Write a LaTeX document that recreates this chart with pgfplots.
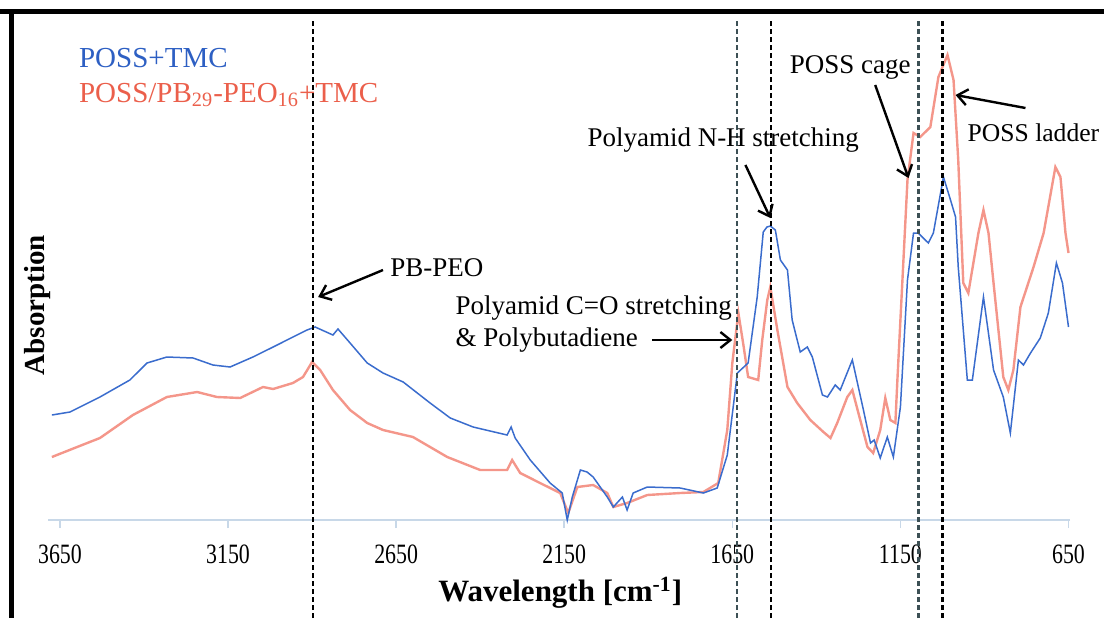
\documentclass[border=0pt]{standalone}
\usepackage{fontspec}
\setmainfont{Liberation Serif}
\usepackage{graphicx}
\usepackage{pgfplots}
\pgfplotsset{compat=1.18}
\usetikzlibrary{arrows.meta}

\definecolor{bluecurve}{RGB}{58,108,205}
\definecolor{redcurve}{RGB}{244,150,138}
\definecolor{bluetext}{RGB}{45,95,195}
\definecolor{redtext}{RGB}{235,95,75}
\definecolor{axisgray}{RGB}{200,216,232}
\definecolor{dashteal}{RGB}{60,80,85}

% POSS+TMC
\pgfplotstableread{
wn y
3674 105
3620 108
3531 123
3442 140
3391 157
3332 163
3254 162
3195 155
3144 153
3076 163
3004 175
2957 183
2915 190
2891 193
2838 185
2823 191
2787 177
2736 157
2689 147
2629 138
2549 117
2489 102
2421 93
2320 85
2308 93
2296 82
2251 60
2192 37
2156 27
2141 0
2126 23
2102 50
2082 48
2064 43
2022 23
2004 13
1977 23
1963 10
1945 27
1903 33
1805 32
1736 27
1695 32
1665 65
1635 147
1603 157
1576 223
1558 288
1547 293
1537 294
1522 290
1507 260
1486 250
1472 200
1448 168
1427 173
1412 163
1382 125
1367 123
1344 135
1329 130
1293 160
1260 110
1239 77
1228 80
1210 62
1189 83
1171 63
1150 113
1129 240
1111 287
1097 287
1067 277
1052 287
1022 343
1001 320
986 303
978 253
951 140
936 140
903 223
873 150
844 123
823 87
799 160
784 155
763 167
734 182
710 207
686 257
668 237
650 193
}\blueTMC

% POSS/PB29-PEO16+TMC
\pgfplotstableread{
wn y
3674 63
3599 73
3531 82
3433 105
3332 123
3242 128
3183 123
3114 122
3046 133
3016 131
2957 137
2927 143
2900 158
2876 150
2838 130
2787 110
2736 97
2689 90
2600 83
2498 63
2400 50
2320 50
2305 60
2281 47
2222 37
2162 27
2138 7
2111 33
2064 35
2022 27
2004 13
1963 17
1903 25
1805 27
1736 28
1692 37
1665 90
1650 157
1632 207
1617 175
1603 143
1573 140
1561 180
1546 220
1537 233
1516 190
1486 133
1457 117
1418 100
1379 88
1358 82
1338 97
1308 123
1293 130
1275 107
1248 73
1231 67
1210 90
1195 122
1180 100
1165 97
1159 140
1144 240
1129 340
1111 387
1091 383
1061 393
1037 443
1010 465
992 440
978 360
963 237
948 227
918 287
903 310
888 287
873 237
844 143
829 130
814 150
793 213
754 253
724 287
689 353
674 343
659 287
650 267
}\redPB

\begin{document}
\begin{tikzpicture}
\useasboundingbox (-24.1pt,-49pt) rectangle (527.9pt,260pt);
% black frame of the figure (top and left)
\fill[black] (-24.1pt,253pt) rectangle (527.9pt,255.5pt);
\fill[black] (-19.5pt,-49pt) rectangle (-17pt,255.5pt);
\begin{axis}[
    at={(0,0)}, anchor=south west,
    scale only axis,
    width=511pt, height=252.5pt,
    x dir=reverse,
    xmin=645, xmax=3685,
    ymin=0, ymax=505,
    axis x line=bottom,
    axis y line=none,
    axis line style={axisgray, line width=0.8pt, -},
    xtick={650,1150,1650,2150,2650,3150,3650},
    xtick align=outside,
    major tick length=4pt,
    tick style={axisgray, line width=0.8pt},
    /pgf/number format/1000 sep={},
    /pgf/number format/assume math mode=true,
    xticklabel={\scalebox{0.78}[1]{\pgfmathprintnumber{\tick}}},
    xticklabel style={font=\fontsize{14}{14}\selectfont, yshift=-5pt},
    clip=false,
]
\addplot[redcurve, line width=1.2pt] table[x=wn, y=y] {\redPB};
\addplot[bluecurve, line width=0.75pt] table[x=wn, y=y] {\blueTMC};

% marker lines
\tikzset{mark line/.style={line width=1.1pt, dash pattern=on 2.4pt off 1.6pt}}
\draw[black, mark line] (axis cs:2897,-98) -- (axis cs:2897,500);
\draw[dashteal, mark line] (axis cs:1635,-98) -- (axis cs:1635,500);
\draw[black, mark line] (axis cs:1534,-98) -- (axis cs:1534,500);
\draw[dashteal, mark line] (axis cs:1096,-98) -- (axis cs:1096,500);
\draw[black, mark line] (axis cs:1025,-98) -- (axis cs:1025,500);

% legend text
\node[anchor=west, text=bluetext, font=\fontsize{14.5}{14.5}\selectfont] at (axis cs:3614,462) {POSS+TMC};
\node[anchor=west, text=redtext, font=\fontsize{14.5}{14.5}\selectfont] at (axis cs:3614,425) {POSS/PB\textsubscript{29}-PEO\textsubscript{16}+TMC};

% annotations
\tikzset{ann/.style={font=\fontsize{13.5}{13.5}\selectfont, inner sep=1pt},
         arr/.style={black, line width=1.2pt, -{Straight Barb[length=5pt,width=8pt]}}}
\node[ann, anchor=west] at (axis cs:2674,252) {PB-PEO};
\draw[arr] (axis cs:2689,250) -- (axis cs:2882,223);

\node[ann, anchor=west] at (axis cs:2480,212) {Polyamid C=O stretching};
\node[ann, anchor=west] at (axis cs:2480,180) {\& Polybutadiene};
\draw[arr] (axis cs:1888,180) -- (axis cs:1650,180);

\node[ann] at (axis cs:1677,380) {Polyamid N-H stretching};
\draw[arr] (axis cs:1611,355) -- (axis cs:1537,302);

\node[ann] at (axis cs:1299,453) {POSS cage};
\draw[arr] (axis cs:1225,435) -- (axis cs:1126,342);

\node[ann, anchor=west, font=\fontsize{12.8}{12.8}\selectfont] at (axis cs:957,387) {POSS ladder};
\draw[arr] (axis cs:778,412) -- (axis cs:986,425);

% axis titles
\node[font=\bfseries\fontsize{15.5}{15.5}\selectfont] at (axis cs:2162,-73) {Wavelength [cm\textsuperscript{-1}]};
\node[rotate=90, font=\bfseries\fontsize{14.5}{14.5}\selectfont] at (axis cs:3718,215) {Absorption};
\end{axis}
\end{tikzpicture}
\end{document}
